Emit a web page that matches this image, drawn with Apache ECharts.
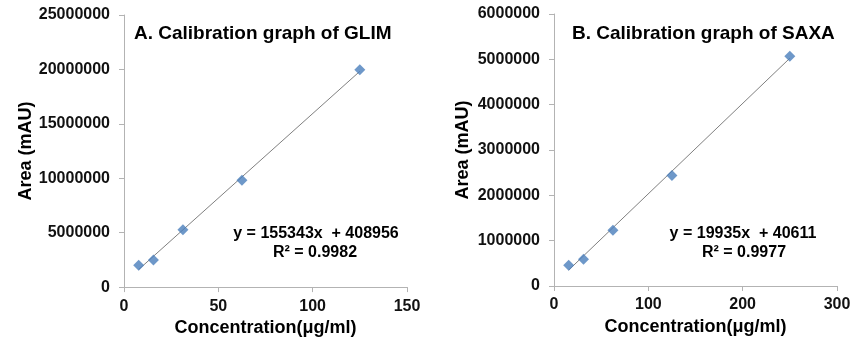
<!DOCTYPE html>
<html>
<head>
<meta charset="utf-8">
<script src="https://cdn.jsdelivr.net/npm/echarts@6/dist/echarts.min.js"></script>
<style>html,body{margin:0;padding:0;background:#fff}#c{width:857px;height:342px}</style>
</head>
<body>
<div id="c"></div>
<script>
// Panel A: GLIM
const concA = [7.8, 15.6, 31.25, 62.5, 125];
const areaA = [2000000, 2490000, 5270000, 9820000, 19980000];
const slopeA = 155343, interceptA = 408956;
const eqA = ['y = 155343x  + 408956', 'R² = 0.9982'];
const titleA = 'A. Calibration graph of GLIM';
// Panel B: SAXA
const concB = [15.6, 31.25, 62.5, 125, 250];
const areaB = [460000, 590000, 1230000, 2440000, 5070000];
const slopeB = 19935, interceptB = 40611;
const eqB = ['y = 19935x  + 40611', 'R² = 0.9977'];
const titleB = 'B. Calibration graph of SAXA';
const xName = 'Concentration(μg/ml)';
const yName = 'Area (mAU)';

const trend = (xs, m, b) => [[xs[0], m * xs[0] + b], [xs[xs.length - 1], m * xs[xs.length - 1] + b]];

const FONT = 'Liberation Sans, Arial, sans-serif';
const axisColor = '#b3b3b3';
function xAx(gi, max, interval) {
  return {
    type: 'value', gridIndex: gi, min: 0, max: max, interval: interval,
    name: xName, nameLocation: 'middle', nameGap: 28,
    nameTextStyle: { fontFamily: FONT, fontWeight: 'bold', fontSize: 18, color: '#000' },
    axisLine: { show: true, lineStyle: { color: axisColor, width: 1 } },
    axisTick: { show: true, length: 5, lineStyle: { color: axisColor } },
    axisLabel: { fontFamily: FONT, fontWeight: 'bold', fontSize: 16, color: '#111', margin: 11, formatter: v => String(v) },
    splitLine: { show: false }
  };
}
function yAx(gi, max, interval) {
  return {
    type: 'value', gridIndex: gi, min: 0, max: max, interval: interval,
    name: yName, nameLocation: 'middle', nameGap: 82, nameRotate: 90,
    nameTextStyle: { fontFamily: FONT, fontWeight: 'bold', fontSize: 18, color: '#000' },
    axisLine: { show: true, lineStyle: { color: axisColor, width: 1 } },
    axisTick: { show: true, length: 5, lineStyle: { color: axisColor } },
    axisLabel: { fontFamily: FONT, fontWeight: 'bold', fontSize: 16, color: '#111', margin: 14, formatter: v => String(v) },
    splitLine: { show: false }
  };
}
function pts(xs, ys) { return xs.map((x, i) => [x, ys[i]]); }
const mk = { symbol: 'diamond', symbolSize: 11, itemStyle: { color: '#4a7ebb' } };
const lineStyle = { color: '#808080', width: 1 };
const t = (x, y, s, size, align) => ({ type: 'text', x: x, y: y, style: { text: s, font: 'bold ' + size + 'px ' + FONT, fill: '#000', textAlign: align, textVerticalAlign: 'middle' } });

const chart = echarts.init(document.getElementById('c'), null, { renderer: 'canvas' });
chart.setOption({
  animation: false,
  backgroundColor: '#fff',
  grid: [
    { left: 124, top: 15, width: 283, height: 273 },
    { left: 554, top: 14, width: 283, height: 272 }
  ],
  xAxis: [xAx(0, 150, 50), xAx(1, 300, 100)],
  yAxis: [yAx(0, 25000000, 5000000), yAx(1, 6000000, 1000000)],
  series: [
    { type: 'line', xAxisIndex: 0, yAxisIndex: 0, data: trend(concA, slopeA, interceptA), showSymbol: false, symbol: 'none', lineStyle: lineStyle, z: 1 },
    Object.assign({ type: 'scatter', xAxisIndex: 0, yAxisIndex: 0, data: pts(concA, areaA), z: 2 }, mk),
    { type: 'line', xAxisIndex: 1, yAxisIndex: 1, data: trend(concB, slopeB, interceptB), showSymbol: false, symbol: 'none', lineStyle: lineStyle, z: 1 },
    Object.assign({ type: 'scatter', xAxisIndex: 1, yAxisIndex: 1, data: pts(concB, areaB), z: 2 }, mk)
  ],
  graphic: [
    t(134, 34, titleA, 19, 'left'),
    t(572, 34, titleB, 19, 'left'),
    t(316, 234, eqA[0], 16, 'center'),
    t(315, 253, eqA[1], 16, 'center'),
    t(743, 234, eqB[0], 16, 'center'),
    t(744, 253, eqB[1], 16, 'center')
  ]
});
</script>
</body>
</html>
